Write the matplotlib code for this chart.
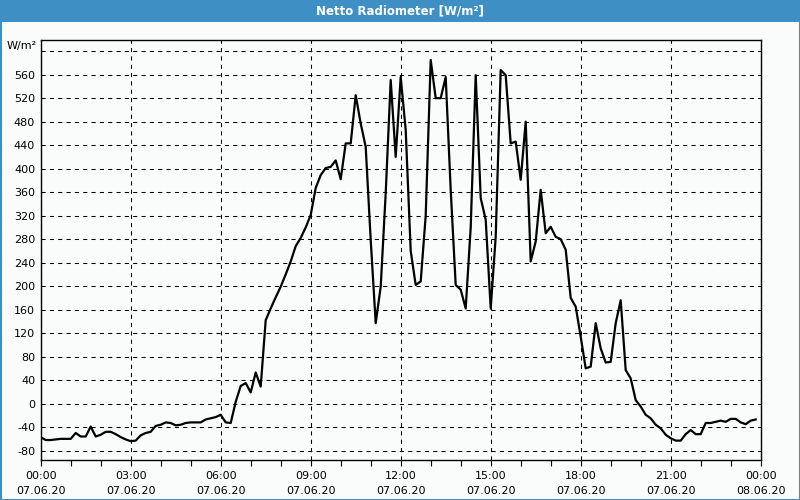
import matplotlib
matplotlib.use("Agg")
import matplotlib.pyplot as plt
from matplotlib.patches import Rectangle

# time in minutes since 07.06.20 00:00
minutes = list(range(0, 1440, 10))
values = [
    -57, -62, -62, -61, -60, -60, -60, -50, -56, -56,
    -39, -56, -53, -48, -48, -52, -57, -61, -64, -63,
    -54, -50, -48, -38, -36, -32, -33, -37, -36, -33,
    -32, -32, -32, -27, -25, -23, -19, -32, -33, 3,
    30, 35, 19, 53, 29, 142, 162, 181, 199, 220,
    242, 268, 282, 300, 321, 367, 389, 401, 403, 414,
    382, 443, 443, 525, 477, 437, 279, 137, 199, 358,
    551, 420, 556, 466, 260, 202, 208, 320, 585, 520,
    520, 556, 364, 202, 194, 162, 300, 559, 350, 313,
    162, 284, 568, 559, 443, 446, 381, 480, 242, 276,
    364, 290, 301, 284, 280, 262, 180, 165, 114, 60,
    63, 137, 94, 70, 71, 137, 176, 57, 43, 6,
    -5, -19, -25, -36, -42, -53, -59, -63, -63, -52,
    -45, -52, -52, -33, -33, -31, -29, -31, -26, -26,
    -32, -35, -29, -27,
]
hours = [m / 60 for m in minutes]

yticks = list(range(-80, 561, 40))
xtick_hours = list(range(0, 25, 3))
xtick_labels = ["00:00\n07.06.20", "03:00\n07.06.20", "06:00\n07.06.20",
                "09:00\n07.06.20", "12:00\n07.06.20", "15:00\n07.06.20",
                "18:00\n07.06.20", "21:00\n07.06.20", "00:00\n08.06.20"]
title = "Netto Radiometer [W/m²]"
unit = "W/m²"

bg = "#fafcfb"
blue = "#3d8fc4"

fig = plt.figure(figsize=(8, 5), dpi=100, facecolor=bg)

# title bar and border
fig.patches.append(Rectangle((0, 1 - 22 / 500), 1, 22 / 500, transform=fig.transFigure,
                             facecolor=blue, edgecolor="none", zorder=0))
fig.patches.append(Rectangle((0.5 / 800, 0.5 / 500), 1 - 1 / 800, 1 - 1 / 500,
                             transform=fig.transFigure, facecolor="none",
                             edgecolor=blue, linewidth=1.5, zorder=1))
fig.text(0.5, 1 - 11 / 500, title, ha="center", va="center", color="white",
         fontsize=8.5, fontweight="bold")

ax = fig.add_axes([40.7 / 800, 1 - 460 / 500, 720 / 800, 420 / 500])
ax.set_facecolor(bg)
ax.plot(hours, values, color="black", linewidth=1.6, zorder=3)

ax.set_xlim(0, 24)
ax.set_ylim(-96, 619)

ax.set_yticks(yticks + [600])
ax.set_yticklabels([str(v) for v in yticks] + [""], fontsize=8)
ax.set_xticks(xtick_hours)
ax.set_xticklabels(xtick_labels, fontsize=8, linespacing=1.6)
ax.set_xticks(list(range(0, 25)), minor=True)

ax.tick_params(axis="y", length=0, pad=4)
ax.tick_params(axis="x", which="both", length=4, width=0.8, direction="out", pad=4)

ax.grid(True, which="major", color="black", linestyle=(0, (4, 4)), linewidth=0.75)
for s in ax.spines.values():
    s.set_linewidth(1.0)
    s.set_color("black")

ax.text(-0.005, 1 - 6 / 420, unit, transform=ax.transAxes, ha="right", va="center",
        fontsize=8)

fig.savefig("out.png", dpi=100, facecolor=bg)
